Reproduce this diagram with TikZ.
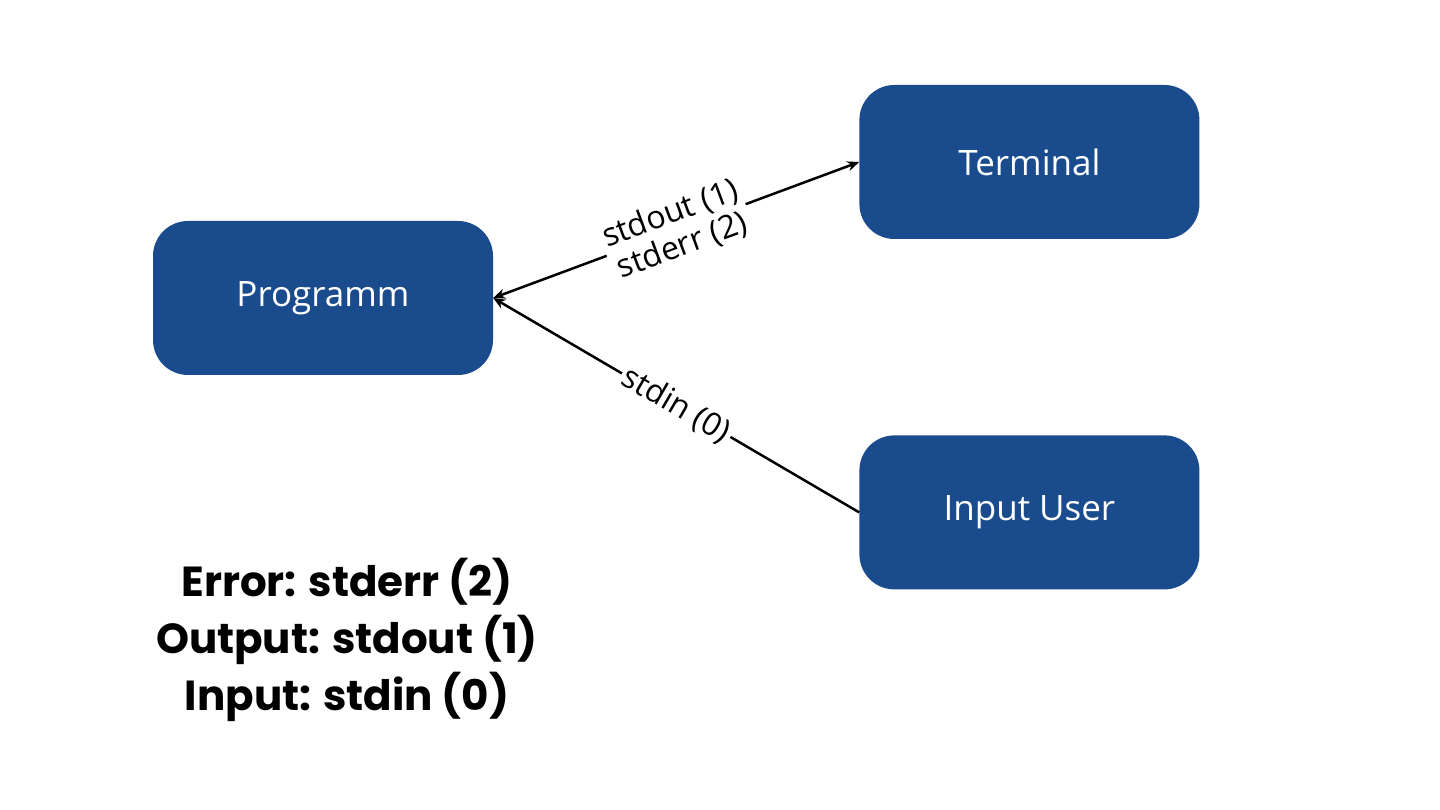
\documentclass[tikz,border=0pt]{standalone}
\usepackage{fontspec}
\setmainfont{Open Sans}
\newfontfamily\legendfont{Poppins}
\usepackage{xcolor}
\usetikzlibrary{positioning, arrows.meta}

\definecolor{boxblue}{HTML}{1A4B8C}

\tikzset{
    procbox/.style={fill=boxblue, text=white, rounded corners=35pt,
        minimum width=340pt, minimum height=154pt, font=\fontsize{35}{40}\selectfont},
    streamlabel/.style={midway, sloped, fill=white, inner sep=3pt, align=center,
        font=\fontsize{32}{34}\selectfont}
}

\begin{document}
\begin{tikzpicture}[x=1pt,y=1pt,>={Stealth[length=12pt,width=10pt]}]
        \useasboundingbox (0,0) rectangle (1440,810);
        % Nodes
        \node (prog) [procbox] at (323,512) {Programm};
        \node (term) [procbox, right=366pt of prog, yshift=136pt] {Terminal};
        \node (user) [procbox, below=196pt of term] {Input User};

        % Arrows
        \draw[<->, line width=2.5pt] (prog.east) -- node[streamlabel] {stdout (1)\\stderr (2)} (term.west);
        \draw[->, line width=2.5pt] (user.west) -- node[streamlabel] {stdin (0)} (prog.east);

        % Legend
        \node (legend) [align=center, font=\legendfont\bfseries\fontsize{42}{57}\selectfont] at (347,170)
            {Error: stderr (2)\\Output: stdout (1)\\Input: stdin (0)};
    \end{tikzpicture}
\end{document}
